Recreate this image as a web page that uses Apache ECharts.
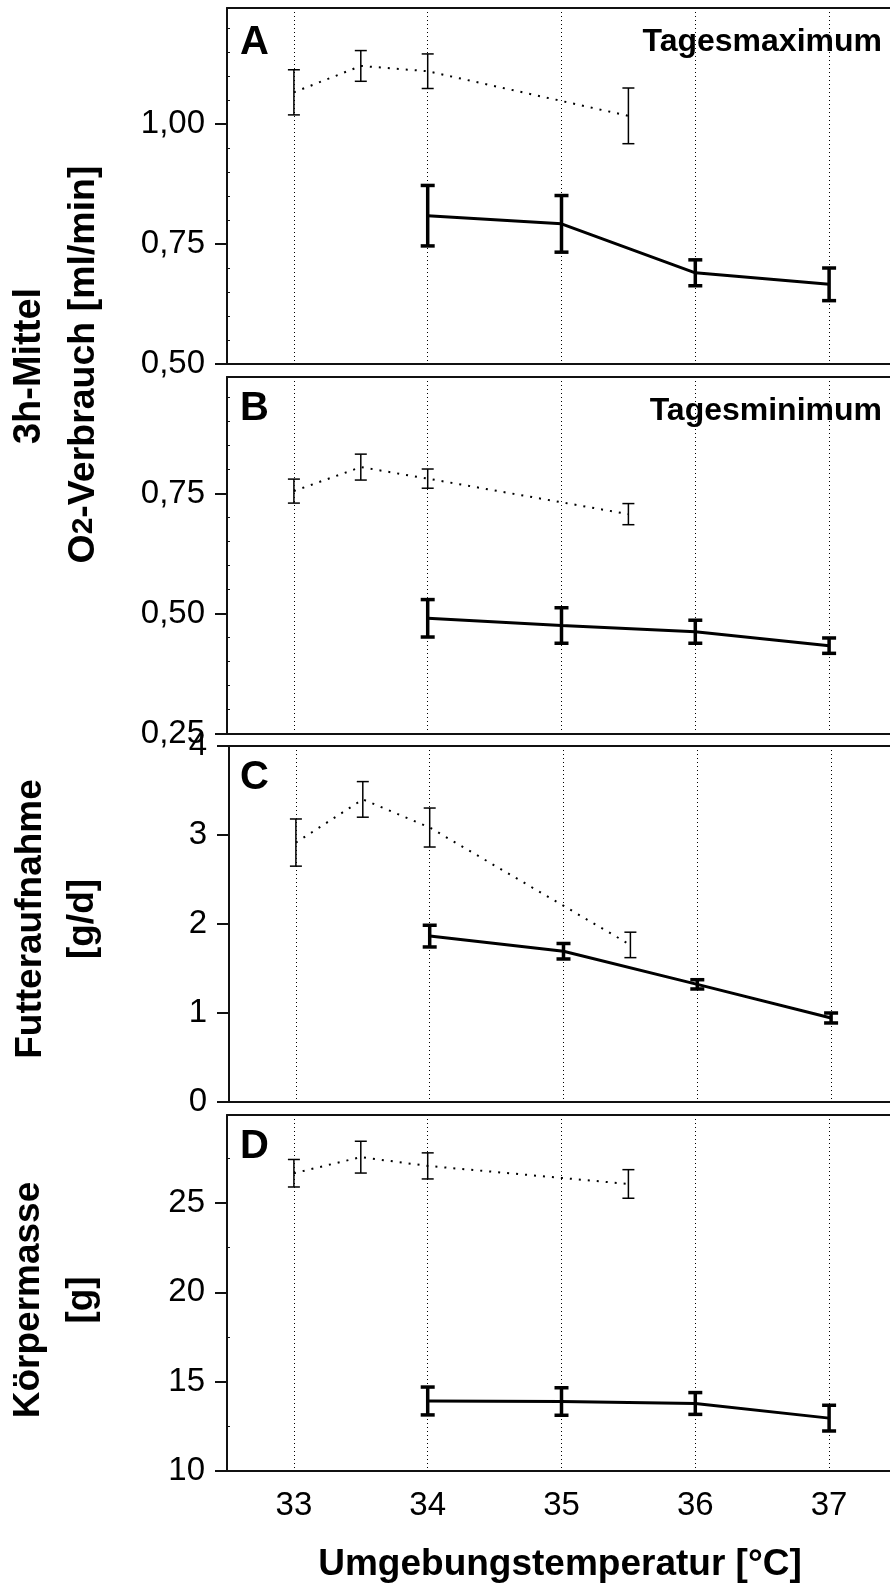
<!DOCTYPE html>
<html><head><meta charset="utf-8">
<script src="https://cdn.jsdelivr.net/npm/echarts@6/dist/echarts.min.js"></script>
<style>html,body{margin:0;padding:0;background:#fff;overflow:hidden}#c{width:910px;height:1586px}</style>
</head><body><div id="c"></div>
<script>
const FONT = "'Liberation Sans', Arial, sans-serif";

// ---------- data ----------
const tempDotted = [33, 33.5, 34, 35.5];
const tempSolid = [34, 35, 36, 37];

// A: Tagesmaximum O2 [ml/min]
const o2MaxDotted = [1.066, 1.121, 1.110, 1.017];
const o2MaxDottedErr = [0.047, 0.032, 0.036, 0.058];
const o2MaxSolid = [0.809, 0.792, 0.690, 0.666];
const o2MaxSolidErr = [0.063, 0.059, 0.027, 0.034];

// B: Tagesminimum O2 [ml/min]
const o2MinDotted = [0.755, 0.805, 0.781, 0.707];
const o2MinDottedErr = [0.025, 0.027, 0.020, 0.022];
const o2MinSolid = [0.490, 0.475, 0.462, 0.433];
const o2MinSolidErr = [0.039, 0.037, 0.024, 0.016];

// C: Futteraufnahme [g/d]
const foodDotted = [2.915, 3.40, 3.084, 1.765];
const foodDottedErr = [0.265, 0.20, 0.219, 0.143];
const foodSolid = [1.864, 1.694, 1.322, 0.944];
const foodSolidErr = [0.122, 0.087, 0.052, 0.056];

// D: Körpermasse [g]
const massDotted = [26.67, 27.57, 27.08, 26.07];
const massDottedErr = [0.77, 0.89, 0.73, 0.80];
const massSolid = [13.92, 13.89, 13.78, 12.96];
const massSolidErr = [0.78, 0.77, 0.61, 0.72];

// ticks
const xTicks = [33, 34, 35, 36, 37];
const yTicksA = [0.50, 0.75, 1.00];
const yTicksB = [0.25, 0.50, 0.75];
const yTicksC = [0, 1, 2, 3, 4];
const yTicksD = [10, 15, 20, 25];
const yMinorA = [0.55, 0.60, 0.65, 0.70, 0.80, 0.85, 0.90, 0.95, 1.05, 1.10, 1.15, 1.20];
const yMinorB = [0.30, 0.35, 0.40, 0.45, 0.55, 0.60, 0.65, 0.70, 0.80, 0.85, 0.90, 0.95];
const yMinorD = [12.5, 17.5, 22.5, 27.5];

// ---------- layout ----------
const X_MIN = 32.5, PX_PER_DEG = 133.8, GRID_W = 720;
const X_MAX = X_MIN + GRID_W / PX_PER_DEG;   // plot area runs past the right edge of the page
const panels = [
  {left: 227, top: 8,    height: 356,   min: 0.5,  max: 1.2417, ticks: yTicksA, minor: yMinorA, fmt: v => v.toFixed(2).replace('.', ','),
   dm: o2MaxDotted, de: o2MaxDottedErr, sm: o2MaxSolid, se: o2MaxSolidErr},
  {left: 227, top: 377,  height: 356.5, min: 0.25, max: 0.9927, ticks: yTicksB, minor: yMinorB, fmt: v => v.toFixed(2).replace('.', ','),
   dm: o2MinDotted, de: o2MinDottedErr, sm: o2MinSolid, se: o2MinSolidErr},
  {left: 229, top: 746,  height: 356,   min: 0,    max: 4,      ticks: yTicksC, minor: null, fmt: v => String(v),
   dm: foodDotted, de: foodDottedErr, sm: foodSolid, se: foodSolidErr},
  {left: 227, top: 1115, height: 356,   min: 10,   max: 29.93,  ticks: yTicksD, minor: yMinorD, fmt: v => String(v),
   dm: massDotted, de: massDottedErr, sm: massSolid, se: massSolidErr}
];

function errRender(w, cap) {
  return function (params, api) {
    const x = api.value(0), lo = api.value(1), hi = api.value(2);
    const p1 = api.coord([x, hi]);
    const p2 = api.coord([x, lo]);
    const st = {stroke: '#000', lineWidth: w, lineCap: 'butt'};
    return {type: 'group', children: [
      {type: 'line', shape: {x1: p1[0], y1: p1[1], x2: p2[0], y2: p2[1]}, style: st},
      {type: 'line', shape: {x1: p1[0] - cap, y1: p1[1], x2: p1[0] + cap, y2: p1[1]}, style: st},
      {type: 'line', shape: {x1: p2[0] - cap, y1: p2[1], x2: p2[0] + cap, y2: p2[1]}, style: st}
    ]};
  };
}

const grid = [], xAxis = [], yAxis = [], series = [];
const minorAxes = [];
panels.forEach((p, i) => {
  grid.push({left: p.left, top: p.top, width: GRID_W, height: p.height, show: false,
    containLabel: false, outerBoundsMode: 'none'});
  xAxis.push({type: 'value', gridIndex: i, min: X_MIN, max: X_MAX, position: 'bottom',
    axisLine: {show: true, onZero: false, lineStyle: {color: '#111', width: 2}},
    axisTick: {show: false, customValues: xTicks},
    axisLabel: {show: i === 3, customValues: xTicks, fontSize: 33, color: '#000', fontFamily: FONT, margin: 18},
    splitLine: {show: true, lineStyle: {color: '#000', width: 1, type: [1, 3]}}
  });
  yAxis.push({type: 'value', gridIndex: i, min: p.min, max: p.max,
    axisLine: {show: true, onZero: false, lineStyle: {color: '#111', width: 2}},
    axisTick: {show: true, length: 12, customValues: p.ticks, lineStyle: {color: '#111', width: 2}},
    axisLabel: {customValues: p.ticks, formatter: p.fmt, fontSize: 33, color: '#000', fontFamily: FONT, margin: 22},
    splitLine: {show: false}
  });
  if (p.minor) minorAxes.push({grid: i, p: p});
});
// top frame line of every panel
panels.forEach((p, i) => {
  xAxis.push({type: 'value', gridIndex: i, min: X_MIN, max: X_MAX, position: 'top',
    axisLine: {show: true, onZero: false, lineStyle: {color: '#111', width: 2}},
    axisTick: {show: false}, axisLabel: {show: false}, splitLine: {show: false}});
});
minorAxes.forEach(m => {
  yAxis.push({type: 'value', gridIndex: m.grid, min: m.p.min, max: m.p.max, position: 'left', offset: 0,
    axisLine: {show: false},
    axisTick: {show: true, inside: true, length: 3, customValues: m.p.minor, lineStyle: {color: '#111', width: 1}},
    axisLabel: {show: false}, splitLine: {show: false}});
});

panels.forEach((p, i) => {
  series.push({type: 'line', xAxisIndex: i, yAxisIndex: i, symbol: 'none', silent: true,
    data: tempDotted.map((t, k) => [t, p.dm[k]]),
    lineStyle: {color: '#000', width: 2, type: [2, 7]}, z: 3});
  series.push({type: 'line', xAxisIndex: i, yAxisIndex: i, symbol: 'none', silent: true,
    data: tempSolid.map((t, k) => [t, p.sm[k]]),
    lineStyle: {color: '#000', width: 3}, z: 3});
  series.push({type: 'custom', xAxisIndex: i, yAxisIndex: i, silent: true,
    renderItem: errRender(1.5, 6),
    encode: {x: 0, y: [1, 2]},
    data: tempDotted.map((t, k) => [t, p.dm[k] - p.de[k], p.dm[k] + p.de[k]]), z: 4});
  series.push({type: 'custom', xAxisIndex: i, yAxisIndex: i, silent: true,
    renderItem: errRender(3.5, 7),
    encode: {x: 0, y: [1, 2]},
    data: tempSolid.map((t, k) => [t, p.sm[k] - p.se[k], p.sm[k] + p.se[k]]), z: 4});
});

function txt(text, x, y, size, opts) {
  opts = opts || {};
  return {type: 'text', x: x, y: y, rotation: opts.rot || 0, z: 10, silent: true,
    style: Object.assign({text: text, font: 'bold ' + size + 'px ' + FONT, fill: '#000',
      align: opts.align || 'center', textAlign: opts.align || 'center',
      verticalAlign: 'middle', textVerticalAlign: 'middle'}, opts.style || {})};
}
const R = Math.PI / 2;
const graphic = [
  txt('A', 240, 43, 40, {align: 'left'}),
  txt('B', 240, 409, 40, {align: 'left'}),
  txt('C', 240, 778, 40, {align: 'left'}),
  txt('D', 240, 1147, 40, {align: 'left'}),
  txt('Tagesmaximum', 882, 42, 32, {align: 'right'}),
  txt('Tagesminimum', 882, 411, 32, {align: 'right'}),
  txt('3h-Mittel', 29.5, 366, 38, {rot: R}),
  {type: 'text', x: 84, y: 364.5, rotation: R, z: 10, silent: true,
   style: {text: '{b|O}{s|2}{b|-Verbrauch [ml/min]}', fill: '#000',
     align: 'center', textAlign: 'center', verticalAlign: 'middle', textVerticalAlign: 'middle',
     rich: {b: {fontSize: 37.5, fontWeight: 'bold', fontFamily: FONT, lineHeight: 42, fill: '#000', color: '#000'},
            s: {fontSize: 30, fontWeight: 'bold', fontFamily: FONT, lineHeight: 42, fill: '#000', color: '#000'}}}},
  txt('Futteraufnahme', 30.5, 919, 37, {rot: R}),
  txt('[g/d]', 82.5, 919, 37, {rot: R}),
  txt('Körpermasse', 28.5, 1300, 37, {rot: R}),
  txt('[g]', 81.5, 1300, 37, {rot: R}),
  txt('Umgebungstemperatur [°C]', 560, 1564.5, 37, {})
];

const chart = echarts.init(document.getElementById('c'), null, {renderer: 'canvas'});
chart.setOption({
  animation: false,
  backgroundColor: '#fff',
  textStyle: {fontFamily: FONT},
  grid: grid, xAxis: xAxis, yAxis: yAxis, series: series, graphic: graphic
});
</script></body></html>
